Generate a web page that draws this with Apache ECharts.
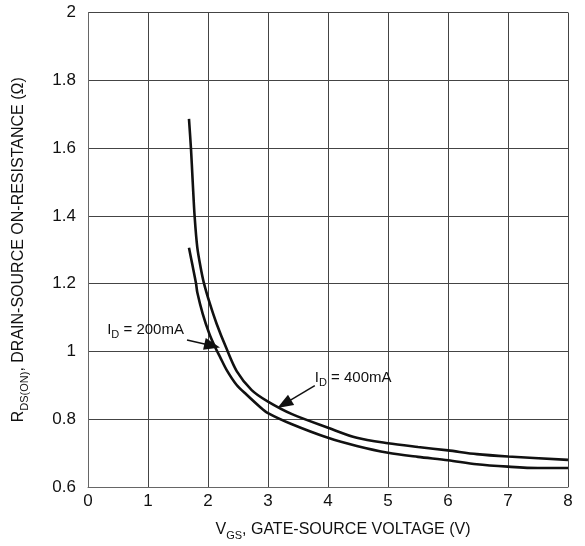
<!DOCTYPE html>
<html>
<head>
<meta charset="utf-8">
<script src="https://cdn.jsdelivr.net/npm/echarts@6/dist/echarts.min.js"></script>
<style>html,body{margin:0;padding:0;background:#fff}#c{width:585px;height:546px}</style>
</head>
<body>
<div id="c"></div>
<script>
// Upper curve: I_D = 400mA
const vgs400 = [1.683, 1.717, 1.745, 1.778, 1.822, 1.878, 1.933, 2.033, 2.145, 2.30, 2.478, 2.728, 3.0, 3.4, 4.0, 4.48, 5.0, 5.5, 6.0, 6.48, 7.0, 8.0];
const rds400 = [1.686, 1.596, 1.501, 1.396, 1.306, 1.247, 1.201, 1.140, 1.081, 1.012, 0.942, 0.886, 0.852, 0.815, 0.775, 0.745, 0.729, 0.718, 0.708, 0.697, 0.690, 0.680];
// Lower curve: I_D = 200mA
const vgs200 = [1.683, 1.738, 1.80, 1.822, 1.912, 2.022, 2.117, 2.2, 2.312, 2.478, 2.645, 2.867, 3.0, 3.4, 4.0, 4.48, 5.0, 5.5, 6.0, 6.48, 7.0, 7.5, 8.0];
const rds200 = [1.306, 1.257, 1.201, 1.174, 1.111, 1.052, 1.013, 0.984, 0.945, 0.901, 0.872, 0.836, 0.818, 0.785, 0.745, 0.721, 0.701, 0.689, 0.679, 0.667, 0.660, 0.656, 0.656];
const xTicks = [0, 1, 2, 3, 4, 5, 6, 7, 8];
const yTicks = [0.6, 0.8, 1, 1.2, 1.4, 1.6, 1.8, 2];

const pair = (xs, ys) => xs.map((x, i) => [x, ys[i]]);
const font = 'Liberation Sans, Arial, sans-serif';
const chart = echarts.init(document.getElementById('c'));

const arrowLine = (from, to) => [
  { coord: from, symbol: 'none' },
  { coord: to, symbol: 'triangle', symbolSize: [12, 16] }
];
const annRich = {
  n: { fontFamily: font, fontSize: 15, color: '#111', lineHeight: 20 },
  s: { fontFamily: font, fontSize: 11, color: '#111', lineHeight: 20, verticalAlign: 'bottom', padding: [6, 0, 0, 0] }
};

chart.setOption({
  animation: false,
  grid: { left: 88, top: 12.5, right: 17, bottom: 54.5 },
  xAxis: {
    type: 'value', min: 0, max: 8, interval: 1,
    axisLine: { show: true, lineStyle: { color: '#666', width: 1 } },
    axisTick: { show: false },
    splitLine: { show: true, lineStyle: { color: '#444', width: 1 } },
    axisLabel: { fontFamily: font, fontSize: 17, color: '#111', margin: 6,
      formatter: v => xTicks.includes(v) ? String(v) : '' },
    name: '{n|V}{s|GS}{n|, GATE-SOURCE VOLTAGE (V)}',
    nameLocation: 'middle', nameGap: 32,
    nameTextStyle: {
      padding: [0, 0, 0, 30],
      rich: {
        n: { fontFamily: font, fontSize: 16, color: '#111', lineHeight: 22 },
        s: { fontFamily: font, fontSize: 11, color: '#111', lineHeight: 22, verticalAlign: 'bottom', padding: [6, 0, 0, 0] }
      }
    }
  },
  yAxis: {
    type: 'value', min: 0.6, max: 2, interval: 0.2,
    axisLine: { show: true, lineStyle: { color: '#666', width: 1 } },
    axisTick: { show: false },
    splitLine: { show: true, lineStyle: { color: '#444', width: 1 } },
    axisLabel: { fontFamily: font, fontSize: 17, color: '#111', margin: 12,
      formatter: v => { const t = yTicks.find(k => Math.abs(k - v) < 1e-6); return t === undefined ? '' : String(t); } },
    name: '{n|R}{s|DS(ON)}{n|, DRAIN-SOURCE ON-RESISTANCE (Ω)}',
    nameLocation: 'middle', nameGap: 58, nameRotate: 90,
    nameTextStyle: {
      rich: {
        n: { fontFamily: font, fontSize: 16, color: '#111', lineHeight: 22 },
        s: { fontFamily: font, fontSize: 11, color: '#111', lineHeight: 22, verticalAlign: 'bottom', padding: [6, 0, 0, 0] }
      }
    }
  },
  series: [
    {
      type: 'line', data: pair(vgs400, rds400), smooth: 0.3,
      symbol: 'none', lineStyle: { color: '#111', width: 2.6 },
      markLine: {
        silent: true, animation: false,
        lineStyle: { color: '#111', width: 1.5, type: 'solid' },
        label: { show: false },
        data: [arrowLine([3.78, 0.899], [3.27, 0.845])]
      },
      markPoint: {
        silent: true, symbol: 'circle', symbolSize: 0,
        data: [{ coord: [3.78, 0.921],
          label: { show: true, position: 'right', distance: 0, formatter: '{n|I}{s|D}{n| = 400mA}', rich: annRich } }]
      }
    },
    {
      type: 'line', data: pair(vgs200, rds200), smooth: 0.3,
      symbol: 'none', lineStyle: { color: '#111', width: 2.6 },
      markLine: {
        silent: true, animation: false,
        lineStyle: { color: '#111', width: 1.5, type: 'solid' },
        label: { show: false },
        data: [arrowLine([1.65, 1.034], [2.07, 1.017])]
      },
      markPoint: {
        silent: true, symbol: 'circle', symbolSize: 0,
        data: [{ coord: [0.32, 1.063],
          label: { show: true, position: 'right', distance: 0, formatter: '{n|I}{s|D}{n| = 200mA}', rich: annRich } }]
      }
    }
  ]
});
</script>
</body>
</html>
